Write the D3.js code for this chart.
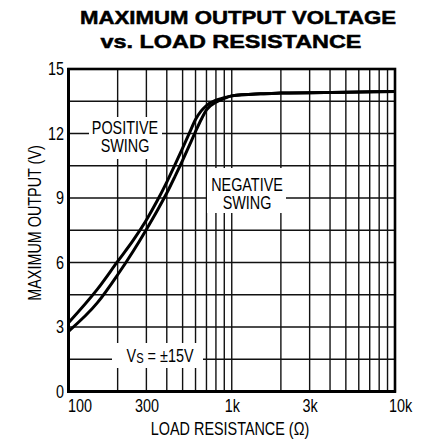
<!DOCTYPE html>
<html>
<head>
<meta charset="utf-8">
<script src="https://cdn.jsdelivr.net/npm/d3@7"></script>
<style>
  html, body { margin: 0; padding: 0; background: #fff; }
  svg { display: block; }
  text { font-family: "Liberation Sans", Arial, sans-serif; }
</style>
</head>
<body>
<svg id="chart" width="422" height="442"></svg>
<script>
// ---------- data ----------
const resistance = [100, 150, 200, 250, 300, 350, 400, 450, 500, 550, 600, 650, 700, 800, 900, 1000, 1500, 2000, 5000, 10000];
const positiveSwing = [3.2, 4.75, 6.05, 7.05, 7.98, 8.88, 9.74, 10.56, 11.32, 12.02, 12.65, 13.05, 13.3, 13.55, 13.66, 13.75, 13.85, 13.88, 13.92, 13.95];
const negativeSwing = [2.8, 4.12, 5.43, 6.55, 7.54, 8.42, 9.23, 10.02, 10.75, 11.45, 12.09, 12.65, 13.1, 13.45, 13.63, 13.75, 13.85, 13.88, 13.92, 13.95];
const xTickValues = [100, 300, 1000, 3000, 10000];
const xTickLabels = ["100", "300", "1k", "3k", "10k"];
const yTickValues = [0, 3, 6, 9, 12, 15];
const yGridValues = [1.5, 3, 4.5, 6, 7.5, 9, 10.5, 12, 13.5];

// ---------- layout ----------
const svg = d3.select("#chart");
const L = 68.5, R = 395, T = 69, B = 391.5;
const SX = 0.8; // condensed look
const x = d3.scaleLog().domain([100, 10000]).range([L, R]);
const y = d3.scaleLinear().domain([0, 15]).range([B, T]);

// grid
const g = svg.append("g");
g.selectAll("line.vg").data(x.ticks().filter(d => d > 100 && d < 10000)).join("line")
  .attr("x1", d => x(d)).attr("x2", d => x(d)).attr("y1", T).attr("y2", B)
  .attr("stroke", "#111").attr("stroke-width", 1.4);
g.selectAll("line.hg").data(yGridValues).join("line")
  .attr("x1", L).attr("x2", R).attr("y1", d => y(d)).attr("y2", d => y(d))
  .attr("stroke", "#111").attr("stroke-width", 1.6);

// white masks for in-plot labels
const masks = [
  [89, 117, 73, 42],   // POSITIVE SWING
  [207, 168, 79, 45],  // NEGATIVE SWING
  [112, 343, 91, 25]   // Vs = ±15V
];
svg.append("g").selectAll("rect").data(masks).join("rect")
  .attr("x", d => d[0]).attr("y", d => d[1]).attr("width", d => d[2]).attr("height", d => d[3])
  .attr("fill", "#fff");

// frame
svg.append("rect").attr("x", L).attr("y", T).attr("width", R - L).attr("height", B - T)
  .attr("fill", "none").attr("stroke", "#000").attr("stroke-width", 2.6);
svg.append("line").attr("x1", L).attr("x2", L).attr("y1", T - 1).attr("y2", B + 1.5)
  .attr("stroke", "#000").attr("stroke-width", 3);
svg.append("line").attr("x1", L - 1.5).attr("x2", R + 1).attr("y1", B).attr("y2", B)
  .attr("stroke", "#000").attr("stroke-width", 3);

// curves
const line = d3.line().x(d => x(d[0])).y(d => y(d[1])).curve(d3.curveMonotoneX);
[positiveSwing, negativeSwing].forEach(s => {
  svg.append("path").datum(resistance.map((r, i) => [r, s[i]]))
    .attr("d", line).attr("fill", "none").attr("stroke", "#000")
    .attr("stroke-width", 3).attr("stroke-linejoin", "round");
});

// axes
const xAxis = svg.append("g").attr("transform", `translate(0,${B})`)
  .call(d3.axisBottom(x).tickValues(xTickValues).tickFormat((d, i) => xTickLabels[i]).tickSize(0).tickPadding(8));
xAxis.select(".domain").remove();
xAxis.attr("font-family", null).attr("font-size", null);
xAxis.selectAll("text").attr("font-size", 18).attr("fill", "#000")
  .attr("transform", `scale(${SX},1)`)
  .attr("dx", (d, i) => (i === 0 ? 11 : (i === xTickValues.length - 1 ? 5 : 0)) / SX);

const yAxis = svg.append("g").attr("transform", `translate(${L},0)`)
  .call(d3.axisLeft(y).tickValues(yTickValues).tickSize(0).tickPadding(5.5));
yAxis.select(".domain").remove();
yAxis.attr("font-family", null).attr("font-size", null);
yAxis.selectAll("text").attr("font-size", 18).attr("fill", "#000")
  .attr("transform", `scale(${SX},1)`);

// helper for condensed text
function ctext(parent, tx, ty, str, rot) {
  return parent.append("text")
    .attr("transform", `translate(${tx},${ty})` + (rot ? ` rotate(${rot})` : "") + ` scale(${SX},1)`)
    .attr("text-anchor", "middle").attr("font-size", 18).text(str);
}

// axis titles
ctext(svg, 230, 435, "LOAD RESISTANCE (Ω)");
ctext(svg, 41, 223, "MAXIMUM OUTPUT (V)", -90);

// title
const title = svg.append("g").attr("font-weight", "bold")
  .attr("text-anchor", "middle").attr("font-size", 19).attr("stroke", "#000").attr("stroke-width", 0.5);
title.append("text").attr("x", 238).attr("y", 24).attr("textLength", 316).attr("lengthAdjust", "spacingAndGlyphs").text("MAXIMUM OUTPUT VOLTAGE");
title.append("text").attr("x", 231).attr("y", 48).attr("textLength", 261).attr("lengthAdjust", "spacingAndGlyphs").text("vs. LOAD RESISTANCE");

// in-plot labels
const lab = svg.append("g");
ctext(lab, 125, 134, "POSITIVE");
ctext(lab, 125, 152, "SWING");
ctext(lab, 247, 191, "NEGATIVE");
ctext(lab, 247, 209, "SWING");
const vs = lab.append("text").attr("transform", `translate(160,362) scale(${SX},1)`)
  .attr("text-anchor", "middle").attr("font-size", 18);
vs.append("tspan").text("V");
vs.append("tspan").attr("font-size", 14).attr("dy", 1).text("S");
vs.append("tspan").attr("dy", -1).text(" = ±15V");
</script>
</body>
</html>
